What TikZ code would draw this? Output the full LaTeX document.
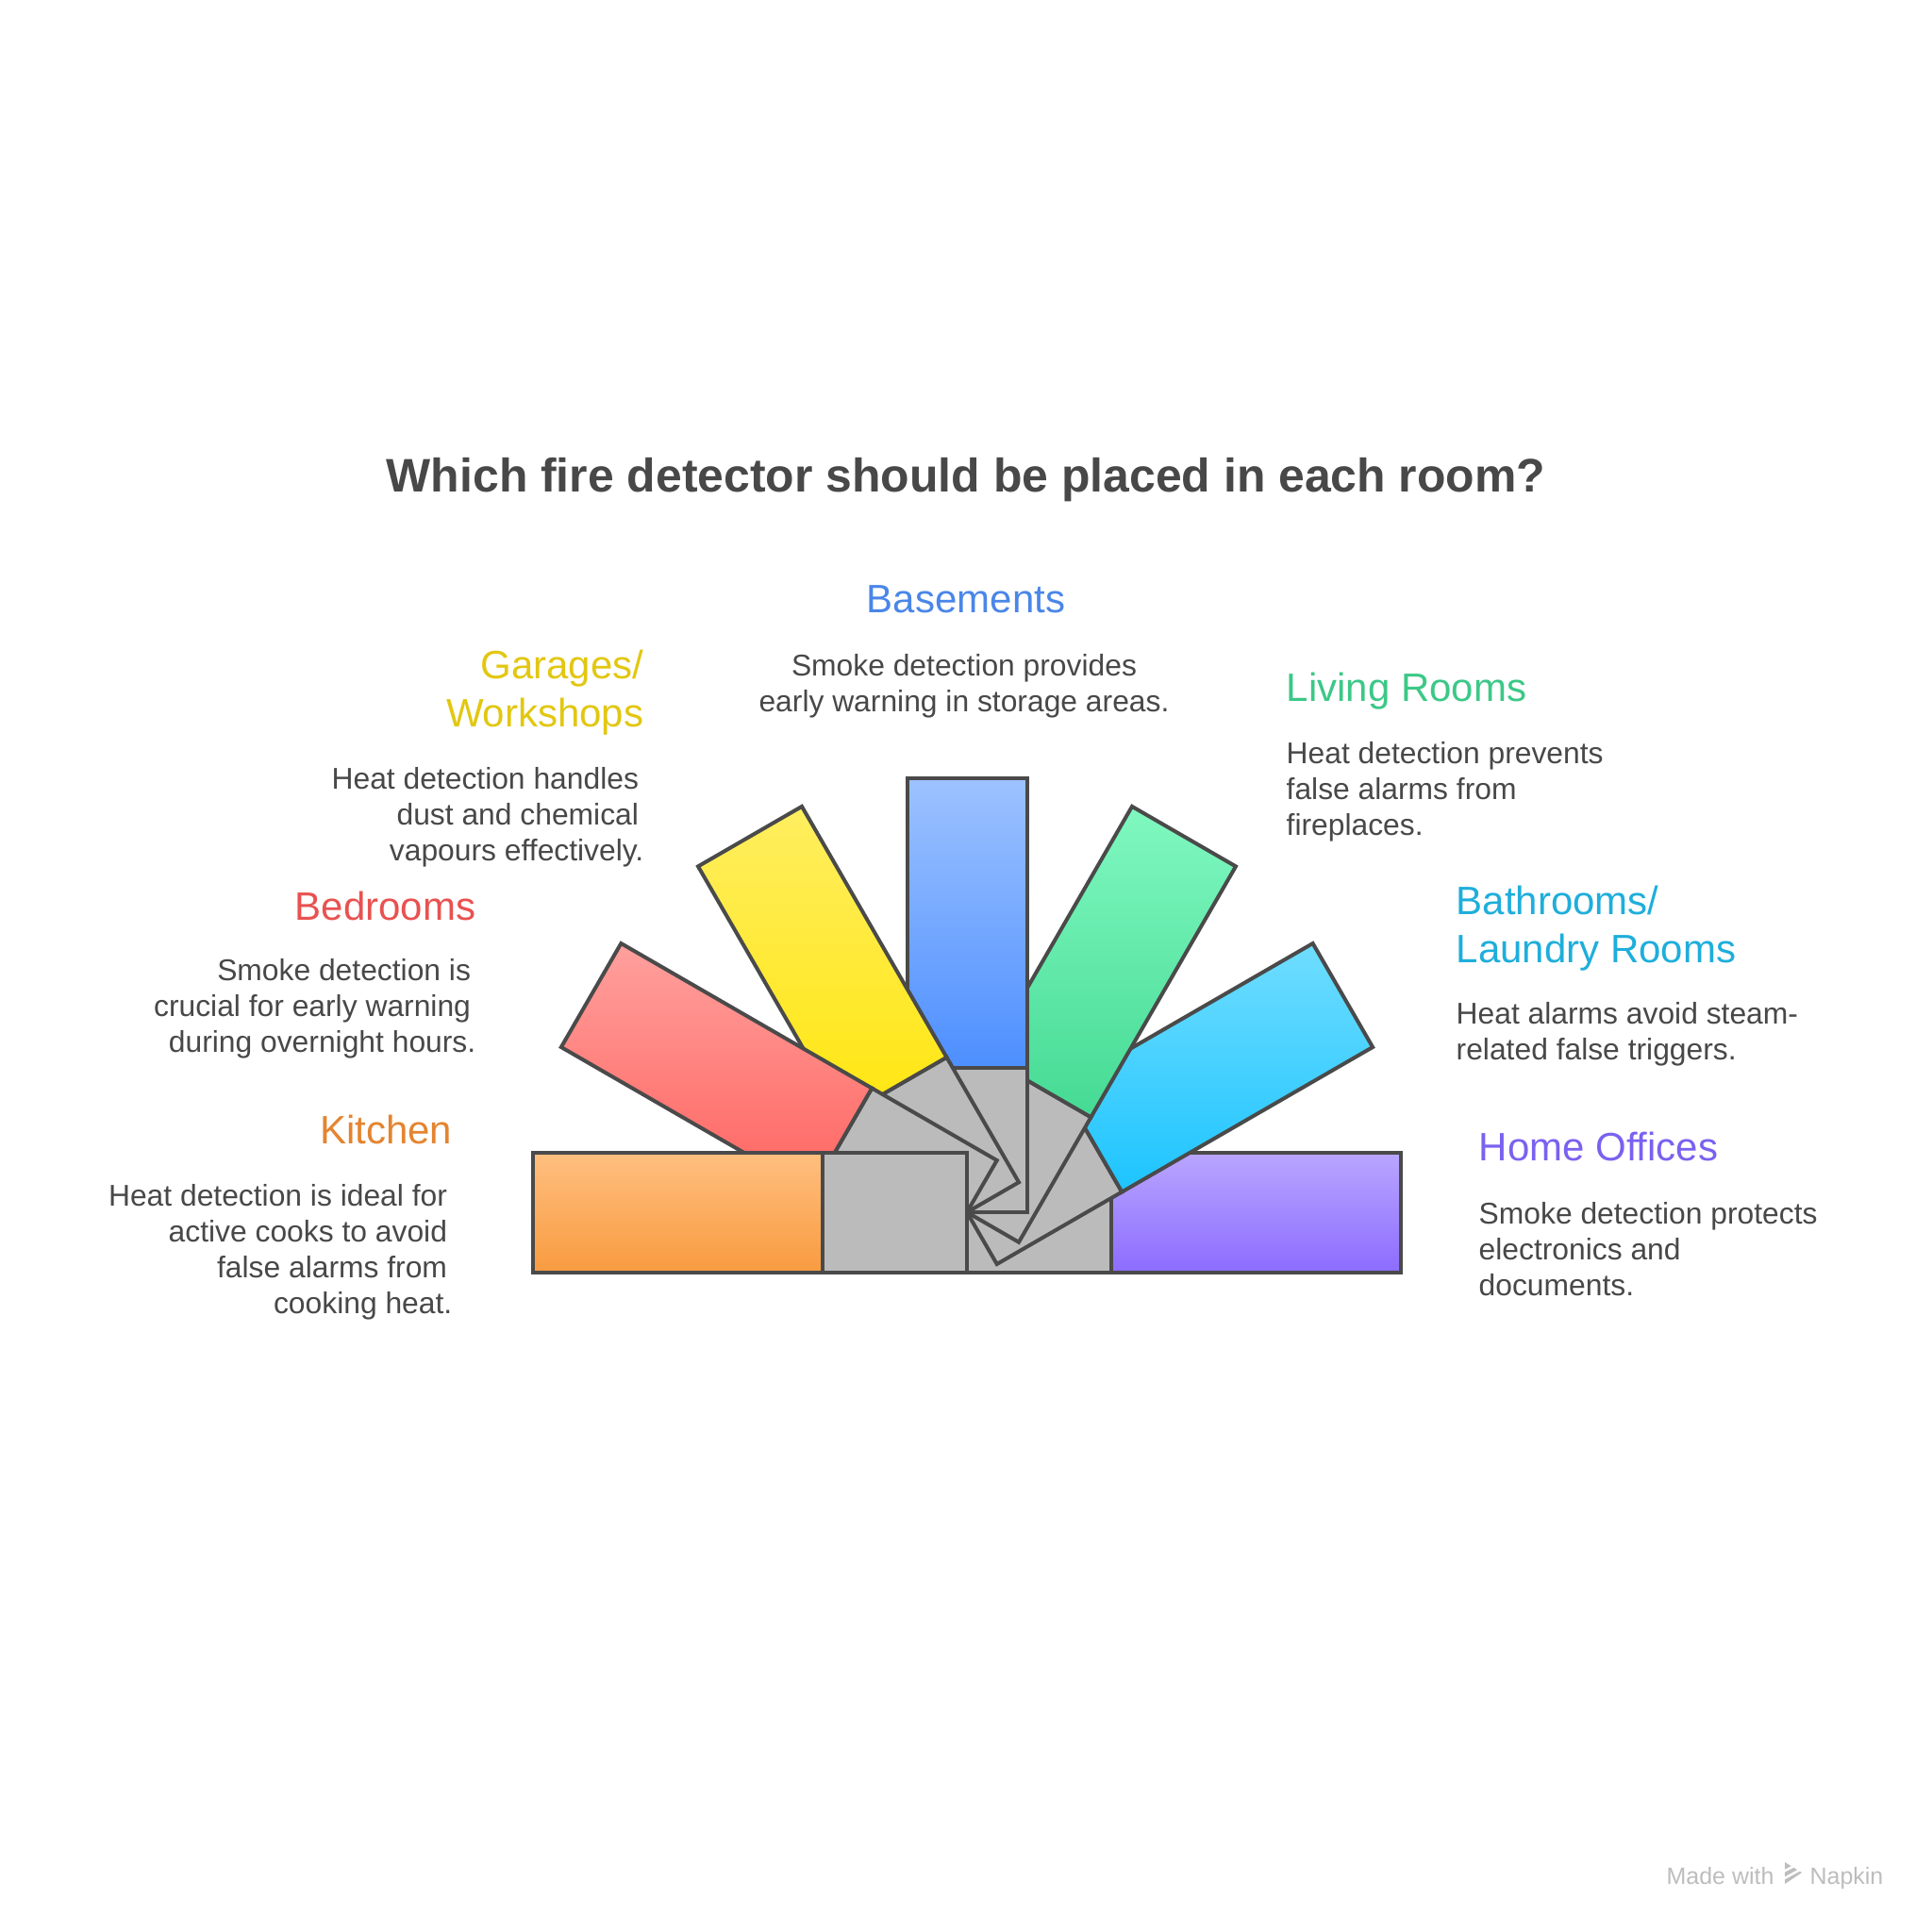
\documentclass[tikz,border=0pt]{standalone}
\usepackage{fontspec}
\setmainfont{Liberation Sans}
\usepackage{tikz}
\usetikzlibrary{calc, positioning}
\definecolor{fdtext}{RGB}{72,72,72}
\definecolor{fdline}{RGB}{74,74,74}
\definecolor{fdgrey}{RGB}{187,187,187}
\definecolor{fdmark}{RGB}{189,189,189}
\definecolor{kitchcol}{RGB}{228,132,48}
\definecolor{bedcol}{RGB}{232,82,80}
\definecolor{garcol}{RGB}{226,199,17}
\definecolor{basecol}{RGB}{74,134,232}
\definecolor{livcol}{RGB}{60,200,135}
\definecolor{bathcol}{RGB}{30,174,219}
\definecolor{offcol}{RGB}{123,97,240}
\definecolor{kitchtop}{RGB}{255,191,128}
\definecolor{kitchbot}{RGB}{248,155,64}
\definecolor{bedtop}{RGB}{255,160,157}
\definecolor{bedbot}{RGB}{255,100,96}
\definecolor{gartop}{RGB}{255,238,96}
\definecolor{garbot}{RGB}{255,230,15}
\definecolor{basetop}{RGB}{157,194,255}
\definecolor{basebot}{RGB}{77,143,255}
\definecolor{livtop}{RGB}{128,248,192}
\definecolor{livbot}{RGB}{69,218,148}
\definecolor{bathtop}{RGB}{111,221,255}
\definecolor{bathbot}{RGB}{29,196,255}
\definecolor{offtop}{RGB}{185,166,255}
\definecolor{offbot}{RGB}{140,108,255}

\tikzset{
  blade/.style={draw=fdline, line width=0.04cm},
  roomhead/.style={inner sep=0pt, font=\fontsize{11.95}{14.5}\selectfont},
  roomtext/.style={inner sep=0pt, text=fdtext, font=\fontsize{9.05}{10.8}\selectfont},
}

\begin{document}
\begin{tikzpicture}
  \useasboundingbox[fill=white] (0,0) rectangle (20.48,-20.48);
  \coordinate (pivot) at (10.25,-12.85);

  \foreach \ang/\ctop/\cbot in {0/offtop/offbot, 30/bathtop/bathbot, 60/livtop/livbot,
      90/basetop/basebot, 120/gartop/garbot, 150/bedtop/bedbot, 180/kitchtop/kitchbot} {
    \coordinate (ba) at ($(pivot)+(\ang+90:0.635)$);
    \coordinate (bb) at ($(pivot)+(\ang-90:0.635)$);
    \coordinate (bc) at ($(bb)+(\ang:1.53)$);
    \coordinate (bd) at ($(ba)+(\ang:1.53)$);
    \draw[blade, fill=fdgrey] (ba) -- (bb) -- (bc) -- (bd) -- cycle;
    \draw[blade, top color=\ctop, bottom color=\cbot]
      (bd) -- (bc) -- ($(bc)+(\ang:3.07)$) -- ($(bd)+(\ang:3.07)$) -- cycle;
  }

  \node[font=\bfseries\fontsize{14.2}{17}\selectfont, text=fdtext, inner sep=0pt, anchor=base]
    (title) at (10.24,-5.21) {Which fire detector should be placed in each room?};

  \node[roomhead, text=basecol, anchor=base] (basehead) at (10.24,-6.49) {Basements};
  \node[roomtext, align=center, anchor=base] (basetext) at (10.22,-7.54)
    {Smoke detection provides\\early warning in storage areas.};

  \node[roomhead, text=garcol, align=right, anchor=base east] (garhead) at (6.83,-7.70)
    {Garages/\\Workshops};
  \node[roomtext, align=right, anchor=base east] (gartext) at (6.83,-9.12)
    {Heat detection handles\,\\dust and chemical\,\\vapours effectively.};

  \node[roomhead, text=bedcol, anchor=base east] (bedhead) at (5.05,-9.75) {Bedrooms};
  \node[roomtext, align=right, anchor=base east] (bedtext) at (5.05,-11.15)
    {Smoke detection is\,\\crucial for early warning\,\\during overnight hours.};

  \node[roomhead, text=kitchcol, anchor=base east] (kitchhead) at (4.80,-12.12) {Kitchen};
  \node[roomtext, align=right, anchor=base east] (kitchtext) at (4.80,-13.92)
    {Heat detection is ideal for\,\\active cooks to avoid\,\\false alarms from\,\\cooking heat.};

  \node[roomhead, text=livcol, anchor=base west] (livhead) at (13.63,-7.43) {Living Rooms};
  \node[roomtext, align=left, anchor=base west] (livtext) at (13.63,-8.85)
    {Heat detection prevents\\false alarms from\\fireplaces.};

  \node[roomhead, text=bathcol, align=left, anchor=base west] (bathhead) at (15.43,-10.20)
    {Bathrooms/\\Laundry Rooms};
  \node[roomtext, align=left, anchor=base west] (bathtext) at (15.43,-11.23)
    {Heat alarms avoid steam-\\related false triggers.};

  \node[roomhead, text=offcol, anchor=base west] (offhead) at (15.67,-12.30) {Home Offices};
  \node[roomtext, align=left, anchor=base west] (offtext) at (15.67,-13.73)
    {Smoke detection protects\\electronics and\\documents.};

  \node[font=\fontsize{7.1}{8.5}\selectfont, text=fdmark, inner sep=0pt, anchor=base west]
    (madewith) at (17.66,-19.97) {Made with};
  \node[font=\fontsize{7.1}{8.5}\selectfont, text=fdmark, inner sep=0pt, anchor=base west]
    (napkin) at (19.18,-19.97) {Napkin};
  \fill[fdmark] (18.92,-19.74) -- (19.10,-19.85) -- (18.92,-19.97) -- cycle;
  \draw[white, line width=0.025cm] (18.90,-19.84) -- (19.02,-19.78)
    (18.90,-19.92) -- (19.08,-19.82);
\end{tikzpicture}
\end{document}
